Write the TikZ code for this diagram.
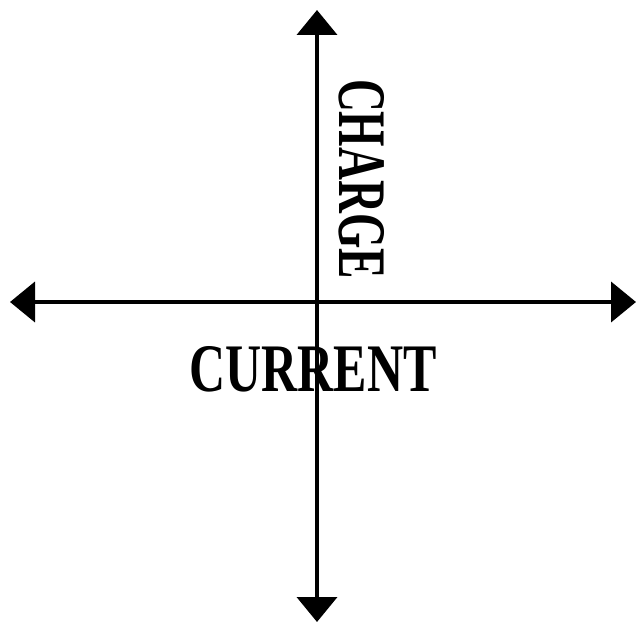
\documentclass[tikz,border=0pt]{standalone}
\usepackage{fontspec}
\setmainfont{Liberation Serif}
\usetikzlibrary{arrows.meta}
\tikzset{
  axis/.style={line width=4pt, {Triangle[width=40pt,length=25pt]}-{Triangle[width=40pt,length=25pt]}},
  lbl/.style={inner sep=0pt, font=\fontsize{68}{68}\selectfont\bfseries}
}
\begin{document}
\begin{tikzpicture}[x=1pt,y=1pt]
\useasboundingbox (0,0) rectangle (636,626);
\node[lbl] (current) at (313,257) {\scalebox{0.735}[1]{CURRENT}};
\node[lbl, rotate=-90] (charge) at (362,447) {\scalebox{0.67}[1]{CHARGE}};
\coordinate (top) at (317,616);
\coordinate (bottom) at (317,4);
\coordinate (left) at (10,324);
\coordinate (right) at (636,324);
\draw[axis] (bottom) -- (top);
\draw[axis] (left) -- (right);
\end{tikzpicture}
\end{document}
